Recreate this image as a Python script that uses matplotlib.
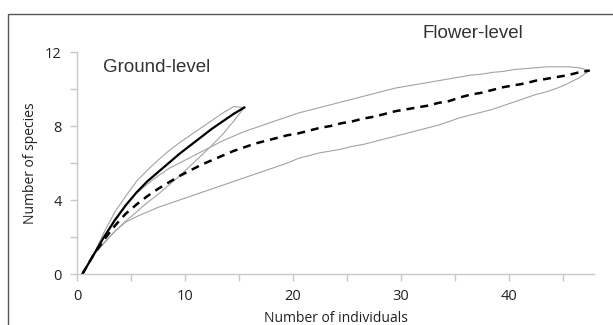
import numpy as np
import matplotlib
matplotlib.use("Agg")
import matplotlib.pyplot as plt
from matplotlib.ticker import FixedLocator
from matplotlib.patches import Rectangle

# Rarefaction curves: expected species vs number of individuals sampled
ground_n = np.arange(0, 16)
ground_mean = [0, 1.0, 2.0, 2.9, 3.7, 4.4, 5.0, 5.5, 6.0, 6.5, 6.95, 7.4, 7.85, 8.25, 8.65, 9.0]
ground_ci_n = np.arange(1, 16)
ground_upper = [1.0, 2.25, 3.35, 4.2, 5.0, 5.6, 6.15, 6.65, 7.1, 7.5, 7.9, 8.3, 8.7, 9.05, 9.0]
ground_lower = [1.0, 1.7, 2.3, 2.85, 3.35, 3.85, 4.3, 4.8, 5.3, 5.85, 6.4, 6.95, 7.55, 8.25, 9.0]

flower_n = np.arange(0, 48)
flower_mean = [0, 1.0, 1.85, 2.6, 3.25, 3.75, 4.2, 4.6, 4.95, 5.3,
               5.6, 5.9, 6.15, 6.4, 6.65, 6.85, 7.05, 7.2, 7.35, 7.5,
               7.6, 7.75, 7.9, 8.0, 8.15, 8.25, 8.4, 8.5, 8.65, 8.8,
               8.9, 9.0, 9.1, 9.25, 9.35, 9.55, 9.7, 9.8, 9.95, 10.1,
               10.2, 10.3, 10.45, 10.55, 10.65, 10.75, 10.9, 11.0]
flower_ci_n = np.arange(1, 48)
flower_upper = [1.0, 2.0, 2.95, 3.75, 4.35, 4.85, 5.3, 5.7, 6.0,
                6.3, 6.6, 6.9, 7.2, 7.45, 7.7, 7.9, 8.1, 8.3, 8.5,
                8.7, 8.85, 9.0, 9.15, 9.3, 9.45, 9.6, 9.75, 9.9, 10.05,
                10.15, 10.25, 10.35, 10.45, 10.55, 10.65, 10.75, 10.8, 10.9, 10.95,
                11.05, 11.1, 11.15, 11.2, 11.2, 11.2, 11.15, 11.0]
flower_lower = [1.0, 1.65, 2.3, 2.8, 3.1, 3.35, 3.6, 3.8, 4.0,
                4.2, 4.4, 4.6, 4.8, 5.0, 5.2, 5.4, 5.6, 5.8, 6.0,
                6.25, 6.4, 6.55, 6.65, 6.75, 6.9, 7.0, 7.15, 7.3, 7.45,
                7.6, 7.75, 7.9, 8.05, 8.25, 8.45, 8.6, 8.75, 8.9, 9.1,
                9.3, 9.5, 9.7, 9.85, 10.05, 10.3, 10.6, 11.0]

# Excel category axis puts the points half a step to the right
x_off = 0.5

fig = plt.figure(figsize=(6.13, 3.25), dpi=100)
ax = fig.add_axes([77 / 613, 1 - 274 / 325, (594 - 77) / 613, (274 - 52) / 325])

ci_style = dict(color="#a3a3a3", lw=0.8)
ax.plot(ground_ci_n + x_off, ground_upper, **ci_style)
ax.plot(ground_ci_n + x_off, ground_lower, **ci_style)
ax.plot(flower_ci_n + x_off, flower_upper, **ci_style)
ax.plot(flower_ci_n + x_off, flower_lower, **ci_style)

ax.plot(flower_n + x_off, flower_mean, color="black", lw=1.8, dashes=(3.2, 2.4))
ax.plot(ground_n + x_off, ground_mean, color="black", lw=1.6)

ax.set_xlim(0, 47.9)
ax.set_ylim(0, 12)

for s in ["top", "right"]:
    ax.spines[s].set_visible(False)
for s in ["left", "bottom"]:
    ax.spines[s].set_color("#c8c8c8")
    ax.spines[s].set_linewidth(1.0)

tick_font = "Open Sans"
ax.xaxis.set_major_locator(FixedLocator([0, 10, 20, 30, 40]))
ax.xaxis.set_minor_locator(FixedLocator([5, 15, 25, 35, 45]))
ax.yaxis.set_major_locator(FixedLocator([0, 4, 8, 12]))
ax.yaxis.set_minor_locator(FixedLocator([2, 6, 10]))
ax.tick_params(which="both", color="#c8c8c8", length=5, width=1.0)
ax.tick_params(axis="both", labelsize=10.5, labelcolor="#222222", pad=6)
for lab in ax.get_xticklabels() + ax.get_yticklabels():
    lab.set_fontfamily(tick_font)

ax.set_xlabel("Number of individuals", fontsize=10, family=tick_font, color="#222222", labelpad=5)
ax.set_ylabel("Number of species", fontsize=10, family=tick_font, color="#222222", labelpad=5)

fig.text(103 / 613, 1 - 68 / 325, "Ground-level", fontsize=13.5, family="Liberation Sans",
         color="#333333", va="center", ha="left")
fig.text(422 / 613, 1 - 33 / 325, "Flower-level", fontsize=13.5, family="Liberation Sans",
         color="#333333", va="center", ha="left")

# outer frame of the original figure (only left and top edges visible)
top = 1 - 14 / 325
fig.patches.append(Rectangle((8 / 613, -0.2), 1.2, top + 0.2,
                             transform=fig.transFigure, fill=False, edgecolor="#555555", lw=1.0))

fig.savefig("out.png", dpi=100)
